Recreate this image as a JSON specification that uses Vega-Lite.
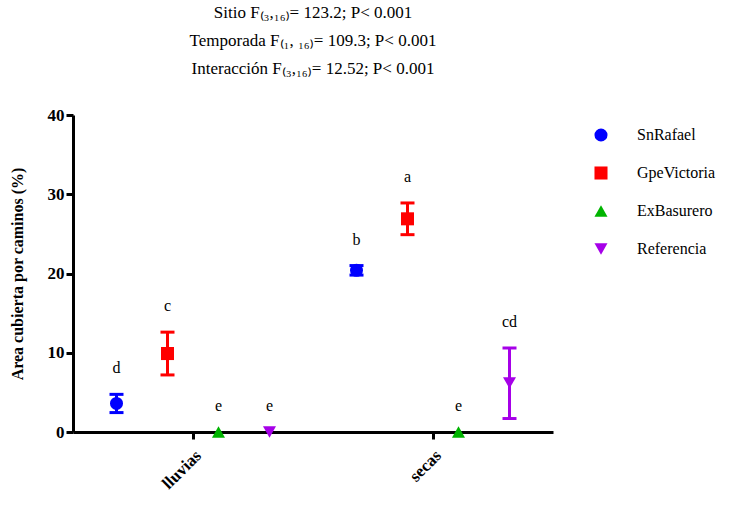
{
  "$schema": "https://vega.github.io/schema/vega-lite/v6.json",
  "width": 480,
  "height": 317,
  "autosize": "none",
  "padding": {"left": 73, "top": 115, "right": 189, "bottom": 78},
  "background": "white",
  "title": {
    "text": ["Sitio F₍₃,₁₆₎= 123.2; P< 0.001", "Temporada F₍₁, ₁₆₎= 109.3; P< 0.001", "Interacción F₍₃,₁₆₎= 12.52; P< 0.001"],
    "font": "Liberation Serif",
    "fontSize": 17,
    "fontWeight": "normal",
    "color": "black",
    "anchor": "middle",
    "frame": "group",
    "lineHeight": 28,
    "offset": 28
  },
  "data": {
    "values": [
      {"temporada": "lluvias", "sitio": "SnRafael", "media": 3.6, "inf": 2.45, "sup": 4.75, "letra": "d"},
      {"temporada": "lluvias", "sitio": "GpeVictoria", "media": 9.9, "inf": 7.2, "sup": 12.6, "letra": "c"},
      {"temporada": "lluvias", "sitio": "ExBasurero", "media": 0, "inf": 0, "sup": 0, "letra": "e"},
      {"temporada": "lluvias", "sitio": "Referencia", "media": 0, "inf": 0, "sup": 0, "letra": "e"},
      {"temporada": "secas", "sitio": "SnRafael", "media": 20.4, "inf": 19.8, "sup": 21.0, "letra": "b"},
      {"temporada": "secas", "sitio": "GpeVictoria", "media": 26.9, "inf": 24.9, "sup": 28.9, "letra": "a"},
      {"temporada": "secas", "sitio": "ExBasurero", "media": 0, "inf": 0, "sup": 0, "letra": "e"},
      {"temporada": "secas", "sitio": "Referencia", "media": 6.2, "inf": 1.7, "sup": 10.6, "letra": "cd"}
    ]
  },
  "encoding": {
    "x": {
      "field": "temporada",
      "type": "nominal",
      "scale": {"domain": ["lluvias", "secas"], "paddingInner": 0, "paddingOuter": 0},
      "axis": {"title": null, "labelAngle": -45, "labelFontSize": 17, "labelPadding": 8}
    },
    "xOffset": {
      "field": "sitio",
      "type": "nominal",
      "scale": {"type": "point", "domain": ["SnRafael", "GpeVictoria", "ExBasurero", "Referencia"], "padding": 0.853}
    },
    "color": {
      "field": "sitio",
      "type": "nominal",
      "scale": {"domain": ["SnRafael", "GpeVictoria", "ExBasurero", "Referencia"], "range": ["#0000FF", "#FF0000", "#00B400", "#A600E8"]},
      "legend": {
        "title": null,
        "orient": "none",
        "legendX": 520,
        "legendY": 12,
        "labelFont": "Liberation Serif",
        "labelFontSize": 16,
        "labelColor": "black",
        "symbolSize": 170,
        "symbolOpacity": 1,
        "rowPadding": 22,
        "labelOffset": 28,
        "symbolStrokeWidth": 0
      }
    }
  },
  "layer": [
    {
      "transform": [{"filter": "datum.sup > datum.inf"}],
      "mark": {"type": "rule", "strokeWidth": 3, "opacity": 1},
      "encoding": {
        "y": {"field": "inf", "type": "quantitative"},
        "y2": {"field": "sup"}
      }
    },
    {
      "transform": [{"filter": "datum.sup > datum.inf"}],
      "mark": {"type": "tick", "size": 14, "thickness": 3, "opacity": 1},
      "encoding": {"y": {"field": "inf", "type": "quantitative"}}
    },
    {
      "transform": [{"filter": "datum.sup > datum.inf"}],
      "mark": {"type": "tick", "size": 14, "thickness": 3, "opacity": 1},
      "encoding": {"y": {"field": "sup", "type": "quantitative"}}
    },
    {
      "mark": {"type": "point", "filled": true, "size": 170, "opacity": 1},
      "encoding": {
        "y": {
          "field": "media",
          "type": "quantitative",
          "scale": {"domain": [0, 40]},
          "axis": {"values": [0, 10, 20, 30, 40], "title": "Area cubierta por caminos (%)", "titleFontSize": 16, "titlePadding": 22}
        },
        "shape": {
          "field": "sitio",
          "type": "nominal",
          "scale": {"domain": ["SnRafael", "GpeVictoria", "ExBasurero", "Referencia"], "range": ["circle", "square", "triangle-up", "triangle-down"]},
          "legend": null
        }
      }
    },
    {
      "mark": {"type": "text", "baseline": "bottom", "dy": -18, "font": "Liberation Serif", "fontSize": 16, "color": "black"},
      "encoding": {
        "y": {"field": "sup", "type": "quantitative"},
        "text": {"field": "letra"},
        "color": {"value": "black"}
      }
    }
  ],
  "config": {
    "view": {"stroke": null},
    "axis": {
      "grid": false,
      "domainColor": "black",
      "domainWidth": 3,
      "tickColor": "black",
      "tickWidth": 3,
      "tickSize": 7,
      "labelFont": "Liberation Serif",
      "labelFontWeight": "bold",
      "labelFontSize": 17,
      "labelColor": "black",
      "titleFont": "Liberation Serif",
      "titleFontWeight": "bold",
      "titleColor": "black"
    }
  }
}
